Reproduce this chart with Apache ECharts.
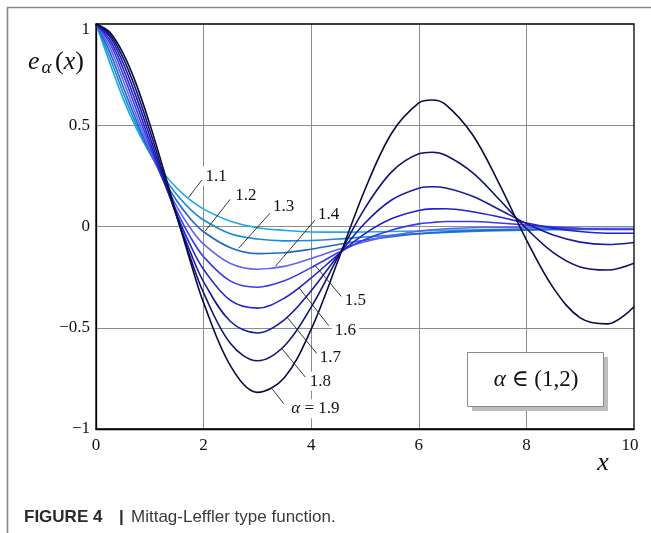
<!DOCTYPE html>
<html><head><meta charset="utf-8">
<script src="https://cdn.jsdelivr.net/npm/echarts/dist/echarts.min.js"></script>
<style>html,body{margin:0;padding:0;background:#fff}#c{width:651px;height:533px}</style>
</head><body><div id="c"></div>
<script>
// ---- data ----
const xs = [0,0.25,0.5,0.75,1,1.25,1.5,1.75,2,2.5,3,3.5,4,4.5,5,5.5,6,6.25,6.5,7,7.5,8,8.5,9,9.5,10];
const alphas = ['1.1','1.2','1.3','1.4','1.5','1.6','1.7','1.8','1.9'];
const e11 = [1,0.813,0.634,0.484,0.363,0.266,0.190,0.131,0.086,0.026,-0.006,-0.019,-0.027,-0.028,-0.027,-0.025,-0.022,-0.0205,-0.019,-0.017,-0.015,-0.0135,-0.012,-0.011,-0.010,-0.009];
const e12 = [1,0.841,0.663,0.502,0.364,0.249,0.158,0.086,0.032,-0.036,-0.062,-0.071,-0.069,-0.062,-0.052,-0.043,-0.035,-0.032,-0.029,-0.024,-0.021,-0.018,-0.016,-0.015,-0.013,-0.012];
const e13 = [1,0.866,0.693,0.523,0.369,0.236,0.127,0.040,-0.026,-0.105,-0.134,-0.130,-0.112,-0.089,-0.068,-0.050,-0.036,-0.031,-0.027,-0.020,-0.017,-0.014,-0.013,-0.012,-0.012,-0.011];
const e14 = [1,0.889,0.725,0.548,0.380,0.229,0.099,-0.006,-0.087,-0.183,-0.211,-0.197,-0.158,-0.114,-0.075,-0.044,-0.023,-0.016,-0.011,-0.006,-0.004,-0.005,-0.007,-0.009,-0.010,-0.011];
const e15 = [1,0.909,0.755,0.577,0.397,0.227,0.076,-0.050,-0.149,-0.270,-0.300,-0.268,-0.203,-0.130,-0.064,-0.017,0.013,0.020,0.025,0.025,0.017,0.007,-0.002,-0.010,-0.014,-0.015];
const e16 = [1,0.925,0.783,0.607,0.418,0.232,0.060,-0.090,-0.212,-0.365,-0.403,-0.354,-0.254,-0.139,-0.035,0.039,0.079,0.087,0.088,0.073,0.047,0.017,-0.008,-0.025,-0.033,-0.033];
const e17 = [1,0.940,0.810,0.639,0.445,0.244,0.051,-0.124,-0.273,-0.469,-0.526,-0.461,-0.317,-0.143,0.017,0.132,0.189,0.196,0.190,0.149,0.083,0.015,-0.042,-0.077,-0.089,-0.079];
const e18 = [1,0.951,0.835,0.670,0.474,0.262,0.049,-0.151,-0.328,-0.578,-0.663,-0.590,-0.398,-0.150,0.091,0.271,0.359,0.367,0.352,0.266,0.132,-0.010,-0.129,-0.200,-0.215,-0.181];
const e19 = [1,0.961,0.857,0.702,0.506,0.286,0.056,-0.169,-0.377,-0.688,-0.819,-0.747,-0.507,-0.168,0.183,0.463,0.610,0.625,0.602,0.453,0.208,-0.066,-0.303,-0.451,-0.481,-0.396];
const xTicks = ['0','2','4','6','8','10'];
const yTicks = {'1':'1','0.5':'0.5','0':'0','-0.5':'\u22120.5','-1':'\u22121'};
// curve labels: text, label centre, leader start, leader end (data units)
const labTexts = ['1.1','1.2','1.3','1.4','1.5','1.6','1.7','1.8','1.9'];
const labPos  = [[2.235,0.249],[2.788,0.151],[3.488,0.101],[4.326,0.061],[4.823,-0.367],[4.637,-0.514],[4.358,-0.645],[4.171,-0.764],[4.078,-0.900]];
const leadA   = [[1.968,0.230],[2.495,0.134],[3.272,0.077],[4.110,0.044],[4.562,-0.346],[4.326,-0.490],[4.110,-0.629],[3.892,-0.744],[3.488,-0.875]];
const leadB   = [[1.719,0.143],[2.030,-0.022],[2.650,-0.108],[3.333,-0.197],[4.078,-0.194],[3.767,-0.300],[3.551,-0.448],[3.458,-0.604],[3.272,-0.801]];

// ---- styles ----
const curves = [e11,e12,e13,e14,e15,e16,e17,e18,e19];
const colors = ['#1ea8ec','#1c8ad6','#1f68c4','#6363f2','#3a3aee','#2222d2','#1a1aa6','#121272','#0b0b3e'];
const serif = '"Liberation Serif","DejaVu Serif",serif';
const sans = '"Liberation Sans",Arial,sans-serif';

const chart = echarts.init(document.getElementById('c'), null, {renderer:'canvas'});
const series = curves.map((ys,i)=>({
  type:'line', name:alphas[i], data: xs.map((x,j)=>[x, ys[j]]),
  showSymbol:false, symbol:'none', smooth:0.35, silent:true, z:3,
  lineStyle:{color:colors[i], width:1.6}
}));
chart.setOption({
  animation:false,
  grid:{left:96, top:24, width:538, height:405, show:false},
  xAxis:{type:'value', min:0, max:10, interval:2,
    axisLine:{show:true, onZero:false, lineStyle:{color:'#000', width:1.3}},
    axisTick:{show:false},
    splitLine:{show:true, showMinLine:false, showMaxLine:false, lineStyle:{color:'#8c8c8c', width:1}},
    axisLabel:{fontFamily:serif, fontSize:17, color:'#111', margin:8,
      formatter:(v)=>{const s=xTicks[Math.round(v/2)]; return v===10?'{r|'+s+'}':s;},
      rich:{r:{fontFamily:serif, fontSize:17, color:'#111', padding:[0,8,0,0]}}}},
  yAxis:{type:'value', min:-1, max:1, interval:0.5,
    axisLine:{show:true, onZero:false, lineStyle:{color:'#000', width:1.3}},
    axisTick:{show:false},
    splitLine:{show:true, showMinLine:false, showMaxLine:false, lineStyle:{color:'#8c8c8c', width:1}},
    axisLabel:{fontFamily:serif, fontSize:17, color:'#111', margin:6,
      formatter:(v)=>{const s=yTicks[String(v)]; return v===1?'{t|'+s+'}':s;},
      rich:{t:{fontFamily:serif, fontSize:17, color:'#111', padding:[12,0,0,0]}}}},
  series: series
});

function px(p){ return chart.convertToPixel({gridIndex:0}, p); }
const g = [];
// plot frame
const tl = px([0,1]), br = px([10,-1]);
g.push({type:'rect', z:50, shape:{x:tl[0], y:tl[1], width:br[0]-tl[0], height:br[1]-tl[1]},
  style:{fill:'none', stroke:'#000', lineWidth:1.3}});
// outer figure frame
g.push({type:'polyline', z:50, shape:{points:[[7.5,533],[7.5,7.5],[651,7.5]]}, style:{fill:'none', stroke:'#888', lineWidth:1.6}});
// leaders + labels
for (let i=0;i<labTexts.length;i++){
  const a = px(leadA[i]), b = px(leadB[i]), c = px(labPos[i]);
  g.push({type:'line', z:40, shape:{x1:a[0],y1:a[1],x2:b[0],y2:b[1]}, style:{stroke:'#222', lineWidth:0.9}});
  const txt = i===8 ? '{i|\u03b1} = '+labTexts[i] : labTexts[i];
  g.push({type:'text', z:41, x:c[0], y:c[1], style:{text:txt, font:'17px '+serif, fill:'#111',
    align:'center', verticalAlign:'middle', backgroundColor:'#fff', padding:[1,3],
    rich:{i:{fontFamily:serif, fontSize:17, fontStyle:'italic', fill:'#111'}}}});
}
// alpha box
g.push({type:'rect', z:42, shape:{x:472, y:357, width:136, height:54}, style:{fill:'#bdbdbd'}});
g.push({type:'rect', z:43, shape:{x:467.5, y:352.5, width:136, height:54}, style:{fill:'#fff', stroke:'#8a8a8a', lineWidth:1}});
g.push({type:'text', z:44, x:536, y:380, style:{text:'{i|\u03b1} \u2208 (1,2)', font:'23px '+serif, fill:'#111',
  align:'center', verticalAlign:'middle', rich:{i:{fontFamily:serif, fontSize:23, fontStyle:'italic', fill:'#111'}}}});
// axis titles
g.push({type:'text', z:44, x:28, y:62, style:{text:'e', font:'italic 26px '+serif, fill:'#111', align:'left', verticalAlign:'middle'}});
g.push({type:'text', z:44, x:41.5, y:68, style:{text:'\u03b1', font:'italic 19px '+serif, fill:'#111', align:'left', verticalAlign:'middle'}});
g.push({type:'text', z:44, x:55, y:62, style:{text:'{p|(}{i|x}{p|)}', font:'26px '+serif, fill:'#111', align:'left', verticalAlign:'middle',
  rich:{p:{fontFamily:serif, fontSize:26, fill:'#111'}, i:{fontFamily:serif, fontSize:26, fontStyle:'italic', fill:'#111'}}}});
g.push({type:'text', z:44, x:603, y:463, style:{text:'x', font:'italic 26px '+serif, fill:'#111', align:'center', verticalAlign:'middle'}});
// caption
g.push({type:'text', z:44, x:24, y:517, style:{text:'FIGURE 4', font:'bold 17px '+sans, fill:'#2a2a2a', align:'left', verticalAlign:'middle'}});
g.push({type:'text', z:44, x:119, y:517, style:{text:'|', font:'bold 17px '+sans, fill:'#2a2a2a', align:'left', verticalAlign:'middle'}});
g.push({type:'text', z:44, x:131, y:517, style:{text:'Mittag-Leffler type function.', font:'17px '+sans, fill:'#3a3a3a', align:'left', verticalAlign:'middle'}});
chart.setOption({graphic:g});
</script></body></html>
